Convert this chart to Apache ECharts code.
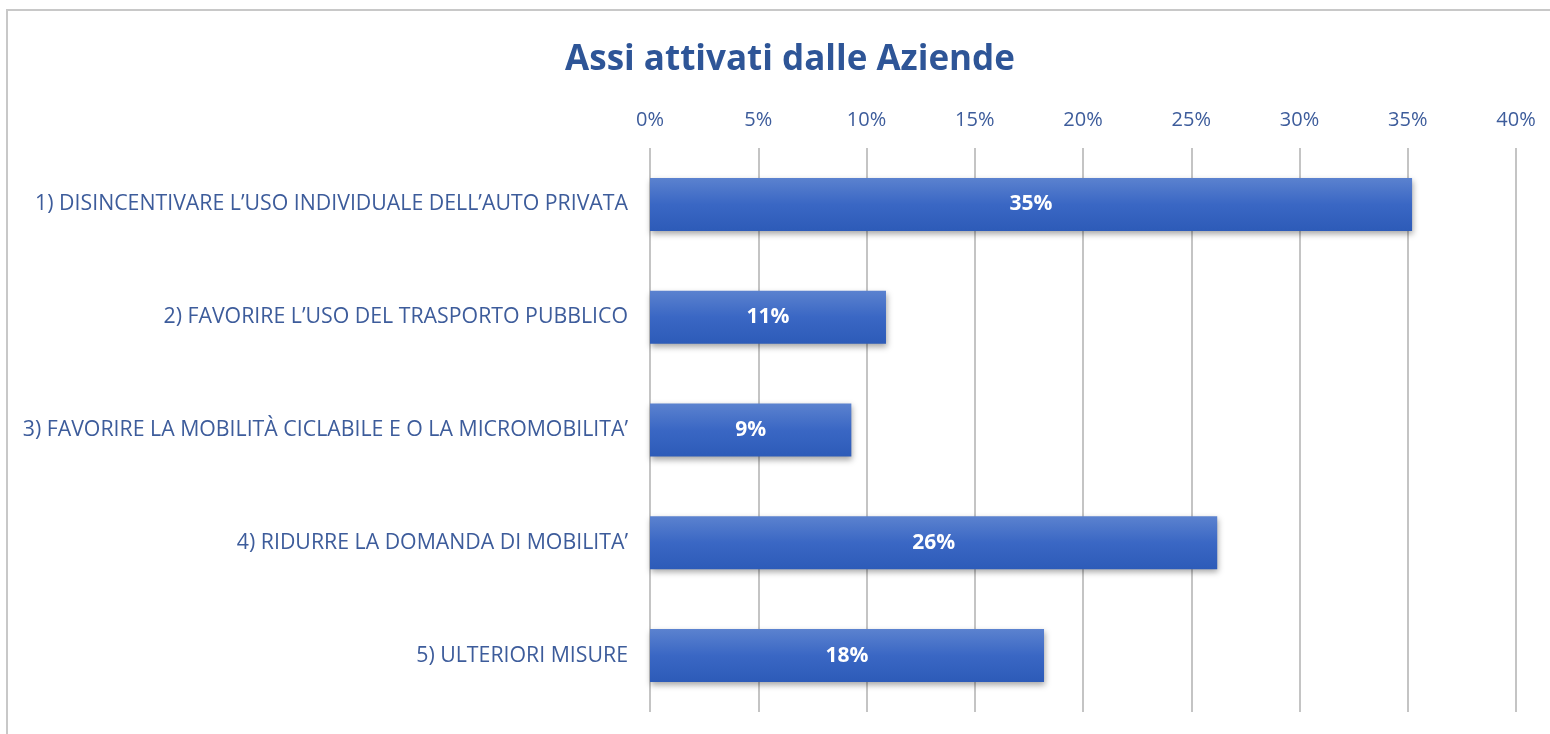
<!DOCTYPE html>
<html>
<head>
<meta charset="utf-8">
<script src="https://cdn.jsdelivr.net/npm/echarts@6/dist/echarts.min.js"></script>
<style>
	html,body{margin:0;padding:0;background:#fff;}
	#chart{width:1550px;height:734px;}
</style>
</head>
<body>
<div id="chart"></div>
<script>
	// dati
	var categories=[
		'1) DISINCENTIVARE L\u2019USO INDIVIDUALE DELL\u2019AUTO PRIVATA',
		'2) FAVORIRE L\u2019USO DEL TRASPORTO PUBBLICO',
		'3) FAVORIRE LA MOBILITÀ CICLABILE E O LA MICROMOBILITA\u2019',
		'4) RIDURRE LA DOMANDA DI MOBILITA\u2019',
		'5) ULTERIORI MISURE'
	]
	var values=[35.2,10.9,9.3,26.2,18.2]
	var axisMax=40
	var axisStep=5

	var chartInstance=echarts.init(document.getElementById('chart'))
	var option={
		backgroundColor:'#fff',
		animation:false,
		title:{
			text:'Assi attivati dalle Aziende',
			left:785,
			top:38,
			textAlign:'center',
			textStyle:{
				fontFamily:'Open Sans',
				fontWeight:'bold',
				fontSize:35,
				color:'#2E5597'
			}
		},
		graphic:[
			{
				type:'polyline',
				shape:{points:[[7,740],[7,10],[1560,10]]},
				style:{stroke:'#C8C8C8',lineWidth:2,fill:null}
			}
		],
		grid:{
			left:650,
			right:34,
			top:148,
			bottom:22
		},
		xAxis:{
			type:'value',
			position:'top',
			min:0,
			max:axisMax,
			interval:axisStep,
			axisLine:{show:false},
			axisTick:{show:false},
			axisLabel:{
				formatter:'{value}%',
				color:'#3D5C9B',
				fontFamily:'Open Sans',
				fontSize:20,
				margin:18
			},
			splitLine:{
				show:true,
				lineStyle:{color:'#C4C4C4',width:2}
			}
		},
		yAxis:{
			type:'category',
			inverse:true,
			data:categories,
			axisLine:{show:false},
			axisTick:{show:false},
			axisLabel:{
				color:'#3D5C9B',
				fontFamily:'Open Sans',
				fontSize:21.3,
				margin:22
			}
		},
		series:[
			{
				type:'bar',
				data:values,
				barCategoryGap:'53%',
				itemStyle:{
					color:new echarts.graphic.LinearGradient(0,0,0,1,[
						{offset:0,color:'#5B82CF'},
						{offset:0.5,color:'#3A67C4'},
						{offset:1,color:'#2D5BB8'}
					]),
					shadowColor:'rgba(0,0,0,0.35)',
					shadowBlur:6,
					shadowOffsetY:3,
					shadowOffsetX:1
				},
				label:{
					show:true,
					position:'inside',
					color:'#fff',
					fontFamily:'Open Sans',
					fontWeight:'bold',
					fontSize:21,
					formatter:function(p){return Math.round(p.value)+'%'}
				}
			}
		]
	}
	chartInstance.setOption(option)
</script>
</body>
</html>
